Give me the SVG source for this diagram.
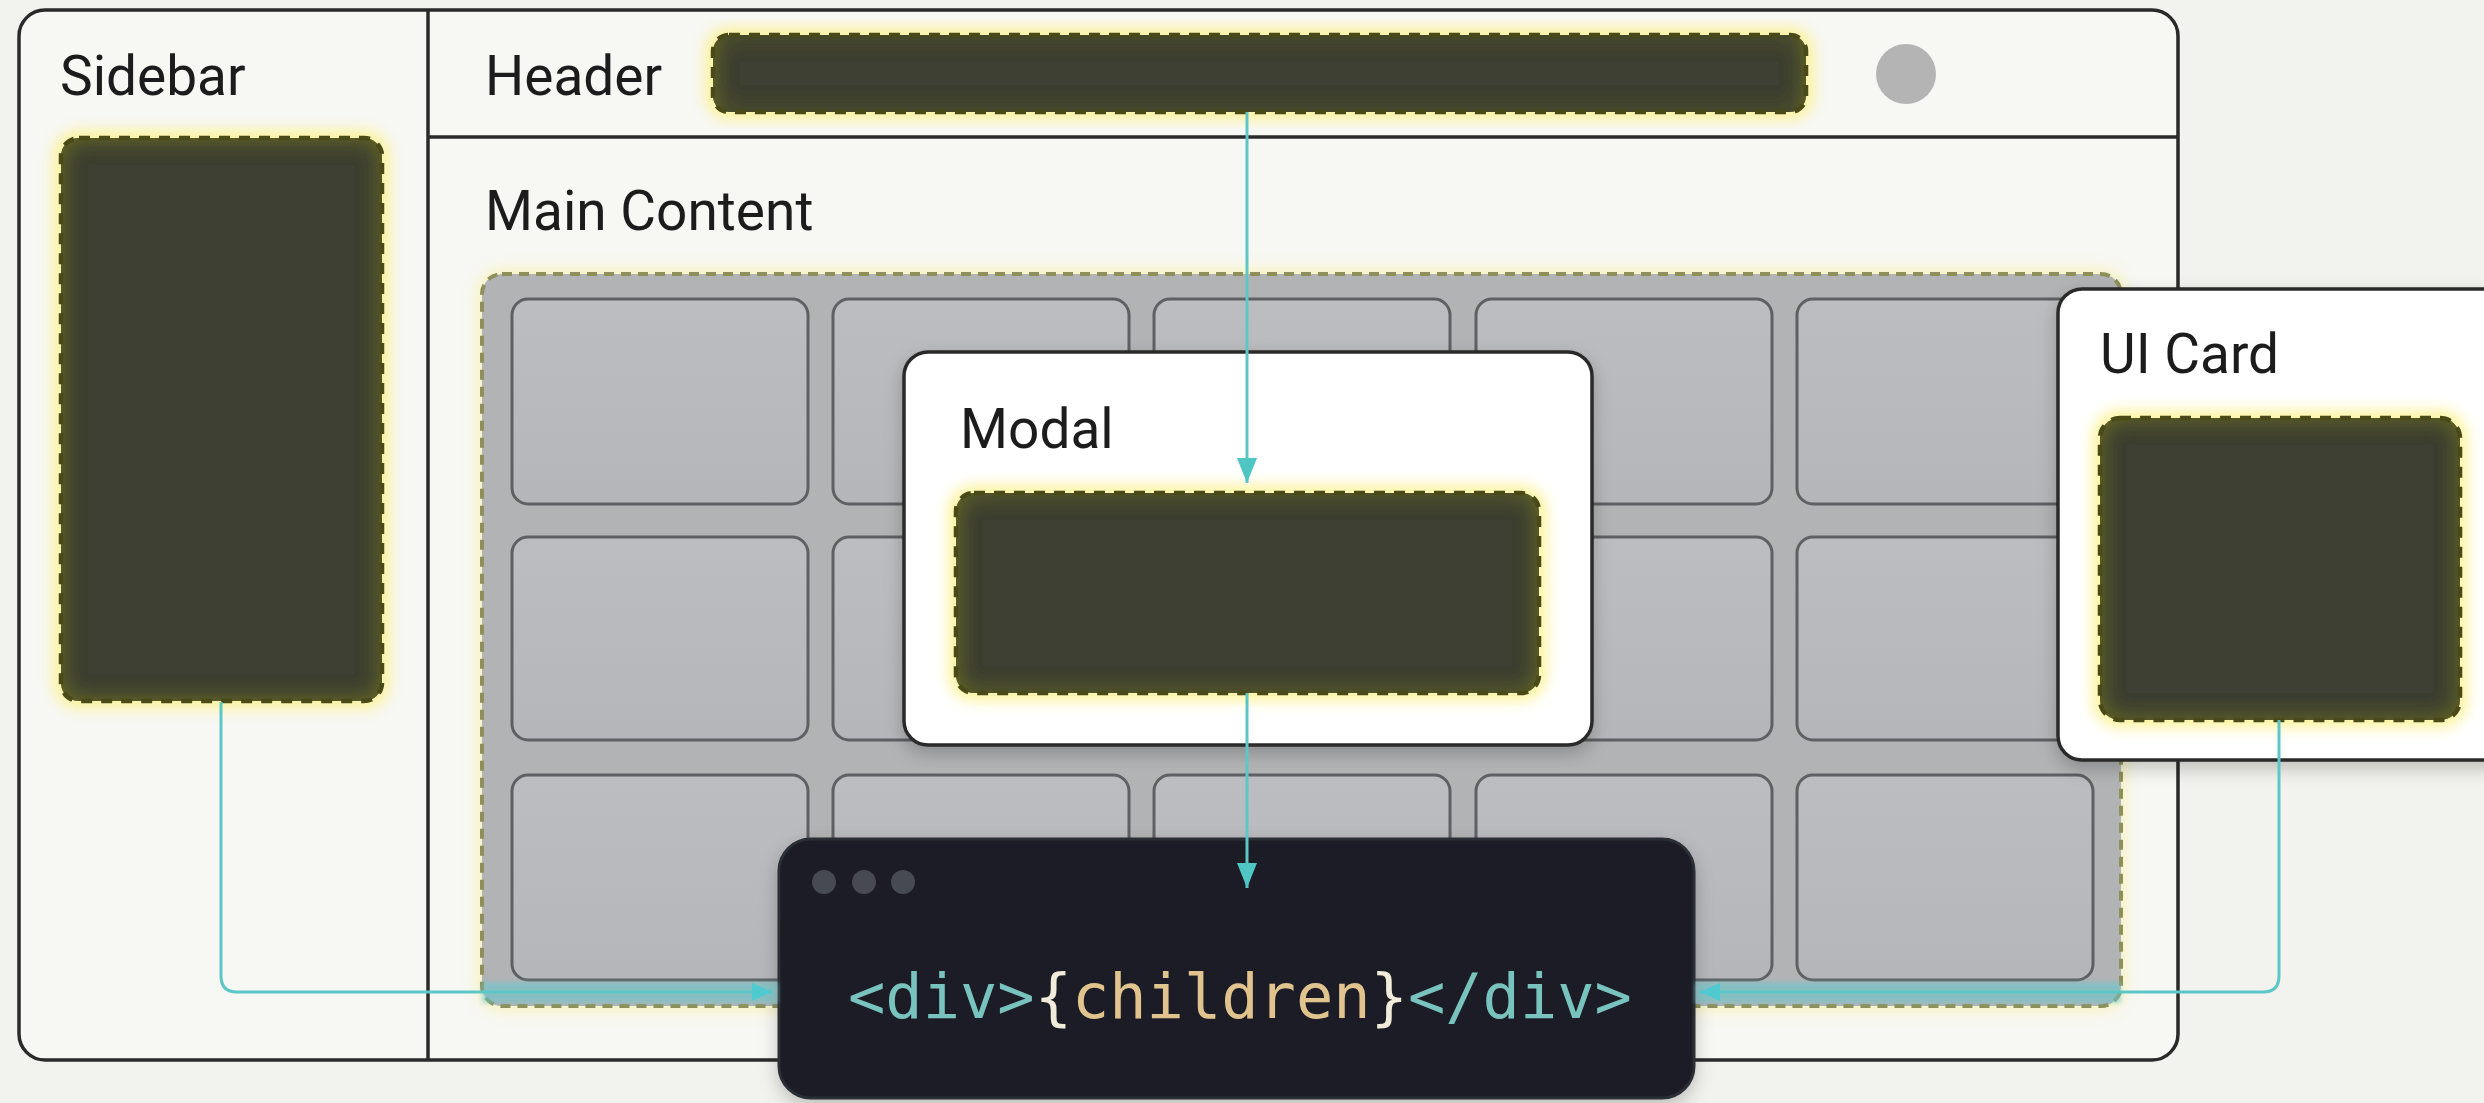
<svg xmlns="http://www.w3.org/2000/svg" width="2484" height="1103" viewBox="0 0 2484 1103">
  <defs>
    <style>
      .label { font-family: Roboto, "Liberation Sans", Arial, sans-serif; font-size: 55px; fill: #1c1c1c; }
      .frame-line { fill: none; stroke: #2a2a2a; stroke-width: 3.5; }
      .glow { fill: #fcf39a; stroke: #fcf39a; stroke-width: 16; filter: url(#soft); opacity: 0.95; }
      .slot { fill: #3e3f30; filter: url(#inset); }
      .slot-edge { fill: none; stroke: #4a4a19; stroke-width: 4.5; stroke-dasharray: 11 9; }
      .cell { fill: url(#cellFill); stroke: #5f6064; stroke-width: 3; }
      .panel { fill: #ffffff; stroke: #2a2a2a; stroke-width: 3.5; filter: url(#shadow); }
      .wire { fill: none; stroke: #5cc7c6; stroke-width: 3; }
      .band { fill: #63c9cf; opacity: 0.55; filter: url(#blur2); }
      .code { font-family: "DejaVu Sans Mono", "Liberation Mono", monospace; font-size: 62px; }
      .tag { fill: #79c3bf; }
      .brace { fill: #f1ebd9; }
      .ident { fill: #e1c48d; }
    </style>
    <filter id="soft" x="-20%" y="-20%" width="140%" height="140%">
      <feGaussianBlur stdDeviation="7"/>
    </filter>
    <filter id="blur2" x="-10%" y="-50%" width="120%" height="200%">
      <feGaussianBlur stdDeviation="2"/>
    </filter>
    <filter id="shadow" x="-10%" y="-10%" width="120%" height="130%">
      <feDropShadow dx="0" dy="7" stdDeviation="9" flood-color="#000" flood-opacity="0.22"/>
    </filter>
    <!-- olive inner edge fading to a dark centre -->
    <filter id="inset" x="-5%" y="-5%" width="110%" height="110%">
      <feComponentTransfer in="SourceAlpha" result="inv">
        <feFuncA type="table" tableValues="1 0"/>
      </feComponentTransfer>
      <feGaussianBlur in="inv" stdDeviation="11" result="invBlur"/>
      <feFlood flood-color="#6a6c1e"/>
      <feComposite operator="in" in2="invBlur"/>
      <feComposite operator="in" in2="SourceAlpha" result="edge"/>
      <feMerge>
        <feMergeNode in="SourceGraphic"/>
        <feMergeNode in="edge"/>
      </feMerge>
    </filter>
    <linearGradient id="cellFill" x1="0" y1="0" x2="0" y2="1">
      <stop offset="0" stop-color="#bcbdc0"/>
      <stop offset="1" stop-color="#b5b6b9"/>
    </linearGradient>
    <marker id="headV" viewBox="0 0 25 20" refX="25" refY="10" markerWidth="25" markerHeight="20" markerUnits="userSpaceOnUse" orient="auto">
      <path d="M0,0 L25,10 L0,20 z" fill="#4fc5c4"/>
    </marker>
    <marker id="headS" viewBox="0 0 20 20" refX="20" refY="10" markerWidth="20" markerHeight="22" markerUnits="userSpaceOnUse" orient="auto">
      <path d="M0,1 L20,10 L0,19 z" fill="#4fcad0"/>
    </marker>
  </defs>

  <!-- page -->
  <rect x="0" y="0" width="2484" height="1103" fill="#f2f2ee"/>

  <!-- app shell -->
  <g id="shell">
    <rect x="19" y="10" width="2159" height="1050" rx="26" fill="#f7f7f3"/>
    <rect x="19" y="10" width="2159" height="1050" rx="26" class="frame-line"/>
    <line x1="428" y1="10" x2="428" y2="1060" class="frame-line"/>
    <line x1="428" y1="137" x2="2178" y2="137" class="frame-line"/>
  </g>

  <!-- sidebar -->
  <g id="sidebar">
    <text x="60" y="95" class="label">Sidebar</text>
    <rect x="61" y="138" width="321" height="563" rx="18" class="glow"/>
    <rect x="61" y="138" width="321" height="563" rx="18" class="slot"/>
    <rect x="61" y="138" width="321" height="563" rx="18" class="slot-edge"/>
  </g>

  <!-- header -->
  <g id="header">
    <text x="485" y="95" class="label">Header</text>
    <rect x="713" y="35" width="1093" height="77" rx="16" class="glow"/>
    <rect x="713" y="35" width="1093" height="77" rx="16" class="slot"/>
    <rect x="713" y="35" width="1093" height="77" rx="16" class="slot-edge"/>
    <circle cx="1906" cy="74" r="30" fill="#b4b4b4"/>
  </g>

  <!-- main content with card grid -->
  <g id="main-content">
    <text x="485" y="230" class="label">Main Content</text>
    <rect x="482" y="274" width="1639" height="732" rx="20" fill="#f8f3b2" stroke="#f8f3b2" stroke-width="10" filter="url(#soft)" opacity="0.8"/>
    <rect x="482" y="274" width="1639" height="732" rx="20" fill="#b2b3b5"/>
    <rect x="482" y="274" width="1639" height="732" rx="20" fill="none" stroke="#8e8f5a" stroke-width="4" stroke-dasharray="10 7"/>
    <g id="grid">
      <rect x="512" y="299" width="296" height="205" rx="16" class="cell"/>
      <rect x="833" y="299" width="296" height="205" rx="16" class="cell"/>
      <rect x="1154" y="299" width="296" height="205" rx="16" class="cell"/>
      <rect x="1476" y="299" width="296" height="205" rx="16" class="cell"/>
      <rect x="1797" y="299" width="296" height="205" rx="16" class="cell"/>
      <rect x="512" y="537" width="296" height="203" rx="16" class="cell"/>
      <rect x="833" y="537" width="296" height="203" rx="16" class="cell"/>
      <rect x="1154" y="537" width="296" height="203" rx="16" class="cell"/>
      <rect x="1476" y="537" width="296" height="203" rx="16" class="cell"/>
      <rect x="1797" y="537" width="296" height="203" rx="16" class="cell"/>
      <rect x="512" y="775" width="296" height="205" rx="16" class="cell"/>
      <rect x="833" y="775" width="296" height="205" rx="16" class="cell"/>
      <rect x="1154" y="775" width="296" height="205" rx="16" class="cell"/>
      <rect x="1476" y="775" width="296" height="205" rx="16" class="cell"/>
      <rect x="1797" y="775" width="296" height="205" rx="16" class="cell"/>
    </g>
  </g>

  <!-- modal -->
  <g id="modal">
    <rect x="904" y="352" width="688" height="393" rx="24" class="panel"/>
    <text x="960" y="448" class="label">Modal</text>
    <rect x="956" y="493" width="583" height="200" rx="18" class="glow"/>
    <rect x="956" y="493" width="583" height="200" rx="18" class="slot"/>
    <rect x="956" y="493" width="583" height="200" rx="18" class="slot-edge"/>
  </g>

  <!-- ui card -->
  <g id="ui-card">
    <rect x="2058" y="289" width="460" height="471" rx="24" class="panel"/>
    <text x="2100" y="373" class="label">UI Card</text>
    <rect x="2100" y="418" width="360" height="302" rx="20" class="glow"/>
    <rect x="2100" y="418" width="360" height="302" rx="20" class="slot"/>
    <rect x="2100" y="418" width="360" height="302" rx="20" class="slot-edge"/>
  </g>

  <!-- children wrapper -->
  <g id="wrapper">
    <rect x="779" y="839" width="915" height="259" rx="32" fill="#1b1e25" stroke="#2b2e35" stroke-width="3" filter="url(#shadow)"/>
    <circle cx="824" cy="882" r="12" fill="#474a52"/>
    <circle cx="864" cy="882" r="12" fill="#474a52"/>
    <circle cx="903" cy="882" r="12" fill="#474a52"/>
    <text x="848" y="1018" class="code"><tspan class="tag">&lt;div&gt;</tspan><tspan class="brace">{</tspan><tspan class="ident">children</tspan><tspan class="brace">}</tspan><tspan class="tag">&lt;/div&gt;</tspan></text>
  </g>

  <!-- connectors -->
  <g id="connectors">
    <rect x="482" y="982" width="296" height="21" class="band"/>
    <rect x="1695" y="982" width="426" height="21" class="band"/>
    <path d="M1247,112 V483" class="wire" marker-end="url(#headV)"/>
    <path d="M1247,693 V888" class="wire" marker-end="url(#headV)"/>
    <path d="M221,702 V976 Q221,992 237,992 H772" class="wire" marker-end="url(#headS)"/>
    <path d="M2279,720 V976 Q2279,992 2263,992 H1700" class="wire" marker-end="url(#headS)"/>
  </g>
</svg>
